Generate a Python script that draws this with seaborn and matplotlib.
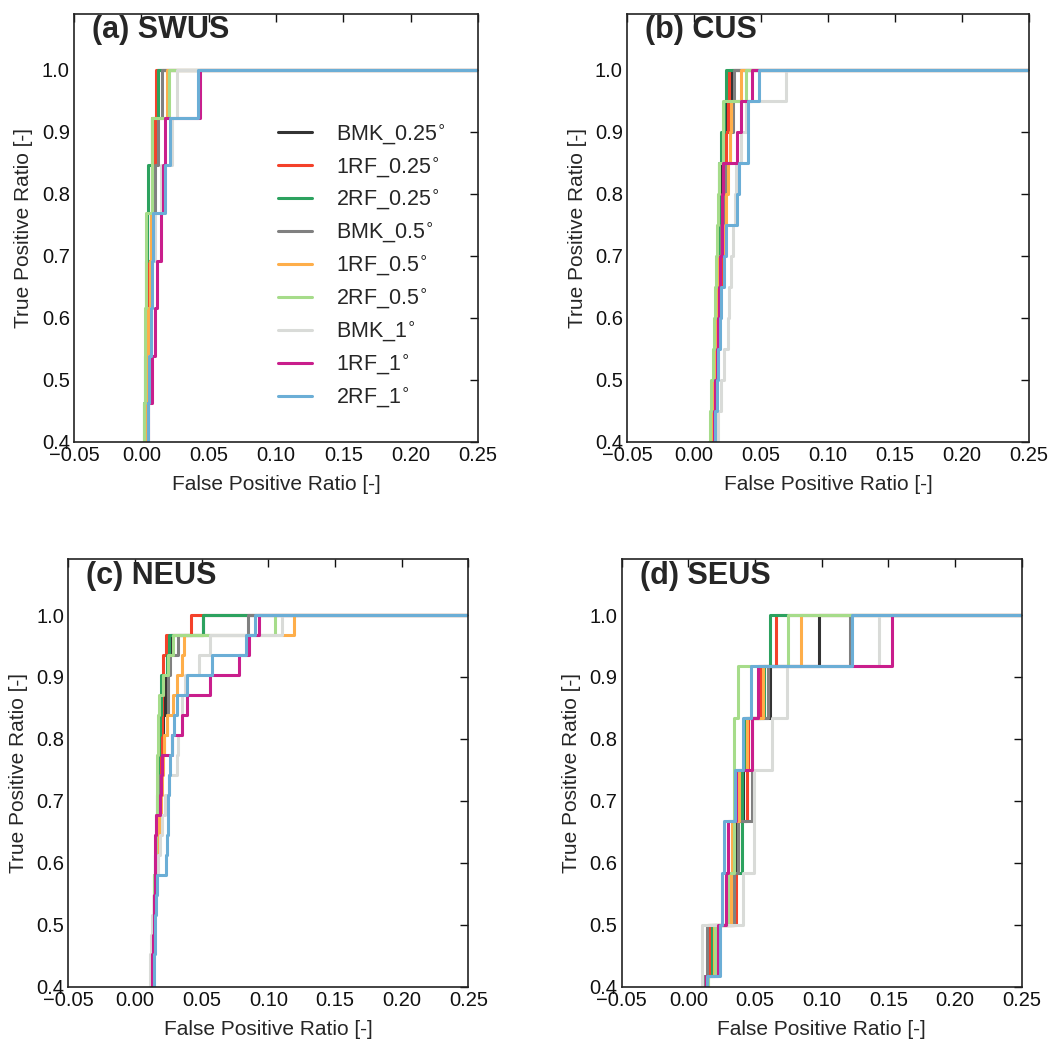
import numpy as np
import pandas as pd
import matplotlib
matplotlib.use("Agg")
import matplotlib.pyplot as plt
import matplotlib.ticker as mticker
import seaborn as sns

# ---------------- data ----------------
MODELS = ["BMK_0.25", "1RF_0.25", "2RF_0.25", "BMK_0.5", "1RF_0.5",
          "2RF_0.5", "BMK_1", "1RF_1", "2RF_1"]
COLORS = ["#333333", "#f4412a", "#2ca25f", "#808080", "#feae4a",
          "#a6dc8a", "#d9dbd8", "#c91e8c", "#6baed6"]
TITLES = ["(a) SWUS", "(b) CUS", "(c) NEUS", "(d) SEUS"]
ROC_END = (1.0, 1.0)

# (a) SWUS : 13 positive events
SWUS_TPR = [0.385, 0.462, 0.538, 0.615, 0.692, 0.769, 0.846, 0.923, 1.0]
SWUS_FPR = [
    [0.002, 0.003, 0.004, 0.005, 0.006, 0.007, 0.009, 0.011, 0.012],
    [0.002, 0.003, 0.004, 0.005, 0.006, 0.007, 0.008, 0.010, 0.0106],
    [0.001, 0.002, 0.003, 0.0035, 0.0035, 0.004, 0.0047, 0.0077, 0.0126],
    [0.003, 0.004, 0.005, 0.006, 0.007, 0.009, 0.010, 0.0121, 0.015],
    [0.002, 0.003, 0.004, 0.005, 0.0064, 0.0075, 0.0077, 0.0077, 0.0188],
    [0.001, 0.002, 0.003, 0.003, 0.0035, 0.0035, 0.0077, 0.0077, 0.0208],
    [0.004, 0.005, 0.006, 0.007, 0.008, 0.010, 0.0146, 0.023, 0.0262],
    [0.004, 0.005, 0.008, 0.0102, 0.0114, 0.0146, 0.0163, 0.0176, 0.0438],
    [0.004, 0.005, 0.006, 0.0072, 0.008, 0.009, 0.0176, 0.0213, 0.0419],
]

# (b) CUS : 20 positive events
CUS_TPR = [0.35, 0.40, 0.45, 0.50, 0.55, 0.60, 0.65, 0.70, 0.75, 0.80,
           0.85, 0.90, 0.95, 1.0]
CUS_FPR = [
    [0.012, 0.013, 0.014, 0.015, 0.016, 0.0165, 0.017, 0.0175, 0.018, 0.0185, 0.020, 0.022, 0.024, 0.0284],
    [0.013, 0.014, 0.015, 0.016, 0.017, 0.018, 0.019, 0.020, 0.021, 0.022, 0.023, 0.024, 0.025, 0.0261],
    [0.011, 0.012, 0.013, 0.014, 0.015, 0.016, 0.0167, 0.0175, 0.018, 0.0187, 0.0187, 0.0204, 0.0221, 0.0241],
    [0.012, 0.013, 0.014, 0.015, 0.016, 0.017, 0.018, 0.019, 0.020, 0.022, 0.024, 0.027, 0.029, 0.030],
    [0.011, 0.012, 0.013, 0.014, 0.015, 0.016, 0.017, 0.018, 0.0229, 0.0236, 0.0254, 0.0266, 0.0279, 0.0353],
    [0.010, 0.011, 0.012, 0.013, 0.014, 0.015, 0.016, 0.0167, 0.017, 0.018, 0.019, 0.0216, 0.0216, 0.039],
    [0.016, 0.017, 0.018, 0.020, 0.022, 0.0254, 0.0261, 0.0279, 0.0291, 0.0303, 0.0316, 0.0353, 0.039, 0.0684],
    [0.013, 0.014, 0.015, 0.016, 0.017, 0.018, 0.0187, 0.0197, 0.0209, 0.0211, 0.0216, 0.0323, 0.0353, 0.0433],
    [0.014, 0.015, 0.016, 0.017, 0.018, 0.0197, 0.0204, 0.0221, 0.0236, 0.0323, 0.0336, 0.0403, 0.0403, 0.0485],
]

# (c) NEUS : 31 positive events
NEUS_TPR = [0.387, 0.419, 0.452, 0.484, 0.516, 0.548, 0.581, 0.613, 0.645,
            0.677, 0.710, 0.742, 0.774, 0.806, 0.839, 0.871, 0.903, 0.935,
            0.968, 1.0]
NEUS_FPR = [
    [0.012, 0.0125, 0.013, 0.0135, 0.014, 0.0145, 0.015, 0.0155, 0.016, 0.0165, 0.017, 0.018, 0.019, 0.020, 0.021, 0.0225, 0.0235, 0.0245, 0.0268, 0.0508],
    [0.0125, 0.013, 0.0135, 0.014, 0.0145, 0.015, 0.0155, 0.016, 0.0165, 0.017, 0.0175, 0.018, 0.019, 0.0195, 0.0205, 0.0205, 0.021, 0.0213, 0.0233, 0.042],
    [0.012, 0.0125, 0.013, 0.0135, 0.014, 0.0145, 0.015, 0.0155, 0.016, 0.0163, 0.0165, 0.017, 0.0175, 0.018, 0.0188, 0.0193, 0.0193, 0.0238, 0.0255, 0.0508],
    [0.0115, 0.012, 0.0125, 0.013, 0.0135, 0.014, 0.0145, 0.015, 0.016, 0.017, 0.018, 0.019, 0.020, 0.022, 0.0238, 0.0245, 0.025, 0.0263, 0.0325, 0.085],
    [0.012, 0.0125, 0.013, 0.0135, 0.014, 0.0145, 0.015, 0.016, 0.017, 0.018, 0.0195, 0.0205, 0.0213, 0.022, 0.0238, 0.0283, 0.0313, 0.035, 0.037, 0.1193],
    [0.0115, 0.012, 0.0125, 0.013, 0.0135, 0.014, 0.0145, 0.015, 0.0155, 0.016, 0.0163, 0.0165, 0.0168, 0.017, 0.0175, 0.0178, 0.0213, 0.0245, 0.0288, 0.105],
    [0.0105, 0.011, 0.0113, 0.012, 0.013, 0.014, 0.015, 0.017, 0.0188, 0.0205, 0.0225, 0.0258, 0.0313, 0.0325, 0.035, 0.0355, 0.0375, 0.048, 0.0563, 0.11],
    [0.012, 0.0125, 0.013, 0.0135, 0.014, 0.0145, 0.015, 0.015, 0.015, 0.0158, 0.0188, 0.0195, 0.0205, 0.0275, 0.0355, 0.0388, 0.0563, 0.078, 0.0855, 0.0933],
    [0.0138, 0.0141, 0.0144, 0.0147, 0.015, 0.0158, 0.0163, 0.023, 0.0238, 0.0245, 0.025, 0.0258, 0.0263, 0.0275, 0.0295, 0.0313, 0.0388, 0.0575, 0.083, 0.09],
]

# (d) SEUS : 12 positive events
SEUS_TPR = [0.333, 0.417, 0.5, 0.583, 0.667, 0.75, 0.833, 0.917, 1.0]
SEUS_FPR = [
    [0.010, 0.013, 0.015, 0.034, 0.036, 0.041, 0.042, 0.061, 0.098],
    [0.011, 0.013, 0.016, 0.036, 0.0375, 0.044, 0.045, 0.054, 0.066],
    [0.012, 0.014, 0.018, 0.033, 0.040, 0.040, 0.043, 0.057, 0.061],
    [0.010, 0.012, 0.014, 0.034, 0.037, 0.0475, 0.0475, 0.060, 0.121],
    [0.012, 0.015, 0.019, 0.032, 0.0325, 0.038, 0.044, 0.056, 0.0845],
    [0.013, 0.015, 0.020, 0.030, 0.034, 0.034, 0.034, 0.037, 0.075],
    [0.008, 0.010, 0.010, 0.041, 0.049, 0.049, 0.063, 0.074, 0.143],
    [0.010, 0.013, 0.0225, 0.028, 0.030, 0.036, 0.048, 0.0525, 0.153],
    [0.011, 0.0143, 0.024, 0.025, 0.027, 0.035, 0.041, 0.0468, 0.123],
]

PANELS = [(SWUS_TPR, SWUS_FPR), (CUS_TPR, CUS_FPR),
          (NEUS_TPR, NEUS_FPR), (SEUS_TPR, SEUS_FPR)]

# ---------------- style ----------------
sns.set_style("white")
plt.rcParams["font.family"] = ["Liberation Sans", "DejaVu Sans"]
plt.rcParams["mathtext.fontset"] = "dejavusans"
plt.rcParams["axes.edgecolor"] = "#222222"
plt.rcParams["axes.linewidth"] = 1.2

LABELS = [m + r"$^{\circ}$" for m in MODELS]


def fmt(decimals):
    return mticker.FuncFormatter(
        lambda v, p: f"{v:.{decimals}f}".replace("-", "\u2212"))


fig = plt.figure(figsize=(10.51, 10.40), dpi=100)
positions = [
    [0.0704, 0.5753, 0.3844, 0.4112],
    [0.5966, 0.5753, 0.3825, 0.4112],
    [0.0650, 0.0513, 0.3806, 0.4109],
    [0.5914, 0.0513, 0.3808, 0.4109],
]

for i, ((tpr, fprs), pos) in enumerate(zip(PANELS, positions)):
    ax = fig.add_axes(pos)
    rows = []
    for lab, fpr in zip(LABELS, fprs):
        for f, t in zip(fpr, tpr):
            rows.append((lab, f, t))
        rows.append((lab, ROC_END[0], ROC_END[1]))
    df = pd.DataFrame(rows, columns=["model", "fpr", "tpr"])
    sns.lineplot(data=df, x="fpr", y="tpr", hue="model", hue_order=LABELS,
                 palette=COLORS, estimator=None, drawstyle="steps-post",
                 lw=2.2, ax=ax, legend=(i == 0))
    ax.set_xlim(-0.05, 0.25)
    ax.set_ylim(0.4, 1.09)
    ax.set_xticks([-0.05, 0.0, 0.05, 0.10, 0.15, 0.20, 0.25])
    ax.set_yticks([0.4, 0.5, 0.6, 0.7, 0.8, 0.9, 1.0])
    ax.xaxis.set_major_formatter(fmt(2))
    ax.yaxis.set_major_formatter(fmt(1))
    ax.tick_params(direction="in", top=True, right=True, length=6, width=1,
                   labelsize=14.5, pad=3, colors="#111111")
    ax.set_xlabel("False Positive Ratio [-]", fontsize=15, labelpad=7)
    ax.set_ylabel("True Positive Ratio [-]", fontsize=15, labelpad=6)
    ax.text(0.045, 0.997, TITLES[i], transform=ax.transAxes, fontsize=22,
            fontweight="bold", va="top", ha="left")
    if i == 0:
        h, l = ax.get_legend_handles_labels()
        ax.legend(h, l, loc="upper left", bbox_to_anchor=(0.505, 0.748),
                  frameon=False, fontsize=15.5, handlelength=1.6,
                  handletextpad=1.1, labelspacing=0.43, borderpad=0,
                  borderaxespad=0)

fig.savefig("out.png", dpi=100)
